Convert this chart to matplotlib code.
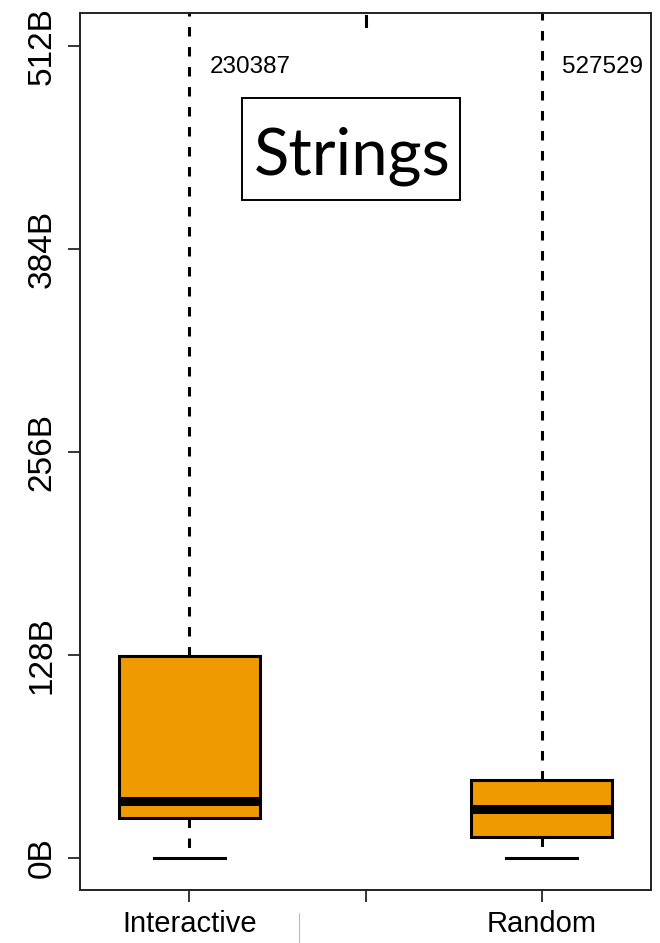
import matplotlib
matplotlib.use("Agg")
import matplotlib.pyplot as plt
from matplotlib.lines import Line2D
from matplotlib.patches import Rectangle

plt.rcParams["font.family"] = ["Liberation Sans", "DejaVu Sans"]
plt.rcParams["lines.scale_dashes"] = False

# Summary statistics per workload (string sizes in bytes)
groups = ["Interactive", "Random"]
mins = [0, 0]
q1s = [25, 13]
medians = [36, 31]
q3s = [127, 49]
maxes = [230387, 527529]

y_ticks = [0, 128, 256, 384, 512]
y_tick_labels = ["0B", "128B", "256B", "384B", "512B"]
title = "Strings"

FILL = "#EE9A00"

fig = plt.figure(figsize=(6.6, 9.43), dpi=100)
ax = fig.add_axes([80 / 660, 53 / 943, 571 / 660, 877 / 943])

stats = []
for g, lo, a, m, b, hi in zip(groups, mins, q1s, medians, q3s, maxes):
    stats.append(dict(label=g, whislo=lo, q1=a, med=m, q3=b, whishi=hi, fliers=[]))

positions = [1, 2]
ax.bxp(
    stats,
    positions=positions,
    widths=0.4,
    patch_artist=True,
    showfliers=False,
    boxprops=dict(facecolor=FILL, edgecolor="black", linewidth=2.2),
    medianprops=dict(color="black", linewidth=6.5, solid_capstyle="butt"),
    whiskerprops=dict(color="black", linewidth=2.2,
                      linestyle=(0, (6.8, 7.6))),
    capprops=dict(color="black", linewidth=2.2),
    capwidths=0.2,
)

# Maximum values written beside the clipped upper whiskers
for p, hi in zip(positions, maxes):
    ax.text(p + 0.057, 499, f"{hi}", ha="left", va="center", fontsize=17.5)

# Short dashed stroke at the centre of the upper edge
ax.add_line(Line2D([1.5, 1.5], [524.5, 531], color="black", linewidth=2.2))

ax.set_xlim(0.69, 2.31)
ax.set_ylim(-20.4, 532.9)

ax.set_yticks(y_ticks)
ax.set_yticklabels(y_tick_labels, rotation=90, va="center", fontsize=24)
ax.set_xticks([1, 1.5, 2])
ax.set_xticklabels(["Interactive", "", "Random"], fontsize=21)
ax.tick_params(axis="both", length=8.6, width=1.1, color="black")
ax.tick_params(axis="y", pad=7.5)
ax.tick_params(axis="x", pad=6)

for s in ax.spines.values():
    s.set_linewidth(1.4)
    s.set_color("#222222")

# Title panel
ax.add_patch(Rectangle(((242 - 80) / 571, (890 - 200) / 877), (460 - 242) / 571,
                       (200 - 98) / 877, transform=ax.transAxes,
                       facecolor="white", edgecolor="black", linewidth=1.4,
                       zorder=5))
ax.text((352 - 80) / 571, (890 - 156) / 877, title, transform=ax.transAxes,
        ha="center", va="center", fontsize=47, family=["Lato", "DejaVu Sans"],
        zorder=6)

# Thin separator next to the first category label
fig.add_artist(Line2D([299 / 660, 299 / 660], [1 - 942 / 943, 1 - 913 / 943],
                      color="#bbbbbb", linewidth=0.8))

fig.savefig("out.png", dpi=100)
